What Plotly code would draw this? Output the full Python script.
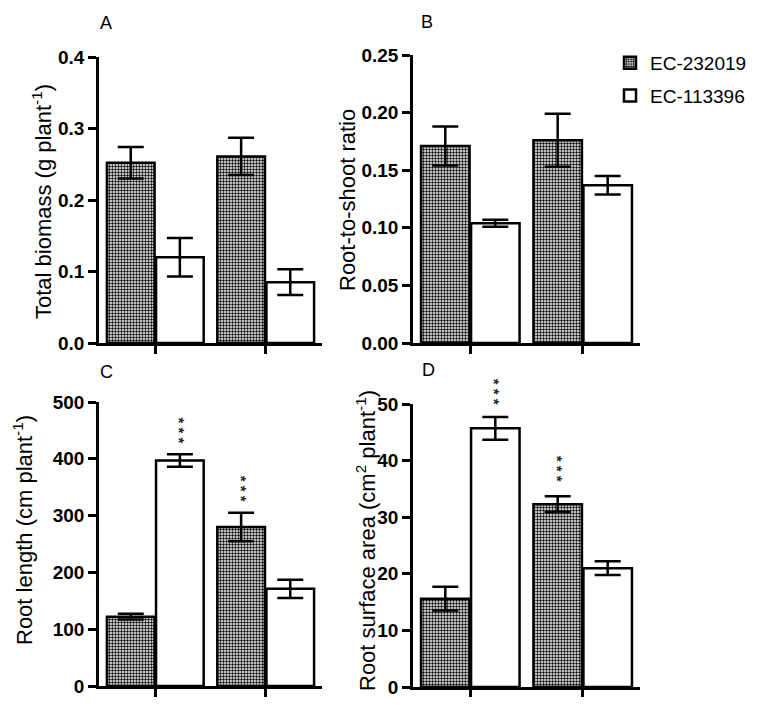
import plotly.graph_objects as go

# The page body adds an 8 px margin, so the figure is drawn 16 px smaller
# and all reference pixel positions are shifted by that margin.
REF_W, REF_H = 760, 705
OFF = 8
W, H = REF_W - 2 * OFF, REF_H - 2 * OFF

# ---------------- data ----------------
groups = [0, 1]
series_names = ["EC-232019", "EC-113396"]

biomass_ec232019 = [0.252, 0.261]
biomass_ec232019_err = [0.022, 0.026]
biomass_ec113396 = [0.120, 0.085]
biomass_ec113396_err = [0.027, 0.018]

ratio_ec232019 = [0.171, 0.176]
ratio_ec232019_err = [0.017, 0.023]
ratio_ec113396 = [0.104, 0.137]
ratio_ec113396_err = [0.003, 0.008]

length_ec232019 = [122, 280]
length_ec232019_err = [5, 25]
length_ec113396 = [397, 171]
length_ec113396_err = [11, 16]

area_ec232019 = [15.6, 32.3]
area_ec232019_err = [2.1, 1.4]
area_ec113396 = [45.7, 21.0]
area_ec113396_err = [2.0, 1.2]

panel_letters = ["A", "B", "C", "D"]
y_titles = [
    "Total biomass (g plant<sup>-1</sup>)",
    "Root-to-shoot ratio",
    "Root length (cm plant<sup>-1</sup>)",
    "Root surface area (cm<sup>2</sup> plant<sup>-1</sup>)",
]
y_ranges = [[0, 0.4], [0, 0.25], [0, 500], [0, 50]]
y_dticks = [0.1, 0.05, 100, 10]
y_formats = [".1f", ".2f", "d", "d"]

# significance marks: (panel index, group index, series index, y value)
stars = [(2, 0, 1, 450), (2, 1, 0, 347), (3, 0, 1, 52.1), (3, 1, 0, 38.6)]

# ---------------- layout helpers ----------------
def fx(p):
    return (p - OFF) / W

def fy(p):
    return 1 - (p - OFF) / H

panel_px = [
    (99, 322, 343, 57),
    (413, 640, 343, 55),
    (99, 322, 686, 402),
    (413, 640, 687, 404),
]

FONT = "Liberation Sans, Arial, sans-serif"

fig = go.Figure()

data_sets = [
    (biomass_ec232019, biomass_ec232019_err, biomass_ec113396, biomass_ec113396_err),
    (ratio_ec232019, ratio_ec232019_err, ratio_ec113396, ratio_ec113396_err),
    (length_ec232019, length_ec232019_err, length_ec113396, length_ec113396_err),
    (area_ec232019, area_ec232019_err, area_ec113396, area_ec113396_err),
]

for i, (v1, e1, v2, e2) in enumerate(data_sets):
    sfx = "" if i == 0 else str(i + 1)
    xa, ya = "x" + sfx, "y" + sfx
    fig.add_trace(go.Bar(
        x=groups, y=v1, name=series_names[0], xaxis=xa, yaxis=ya,
        showlegend=(i == 0), legendgroup="g1",
        marker=dict(color="white", line=dict(color="black", width=2.5),
                    pattern=dict(shape=".", size=3, solidity=0.5,
                                 fgcolor="black", bgcolor="white", fillmode="replace")),
        error_y=dict(type="data", array=e1, color="black", thickness=2.5, width=13),
    ))
    fig.add_trace(go.Bar(
        x=groups, y=v2, name=series_names[1], xaxis=xa, yaxis=ya,
        showlegend=(i == 0), legendgroup="g2",
        marker=dict(color="white", line=dict(color="black", width=2.5)),
        error_y=dict(type="data", array=e2, color="black", thickness=2.5, width=13),
    ))

layout = dict(
    width=W, height=H,
    margin=dict(l=0, r=0, t=0, b=0, autoexpand=False),
    paper_bgcolor="white", plot_bgcolor="white",
    barmode="group", bargap=0.11, bargroupgap=0.03,
    font=dict(family=FONT, color="black"),
    legend=dict(x=1, y=fy(44), xanchor="right", yanchor="top",
                font=dict(size=19, family=FONT), tracegroupgap=5,
                bgcolor="rgba(0,0,0,0)"),
    showlegend=True,
)

annotations = []
for i, (x0, x1, yb, yt) in enumerate(panel_px):
    sfx = "" if i == 0 else str(i + 1)
    layout["xaxis" + sfx] = dict(
        domain=[fx(x0), fx(x1)], anchor="y" + sfx, automargin=False,
        range=[-0.51, 1.51], tickvals=groups,
        showline=True, linecolor="black", linewidth=2.5,
        ticks="outside", ticklen=8, tickwidth=2.5, tickcolor="black",
        showticklabels=False, showgrid=False, zeroline=False, fixedrange=True,
    )
    layout["yaxis" + sfx] = dict(
        domain=[fy(yb), fy(yt)], anchor="x" + sfx, automargin=False,
        range=y_ranges[i], dtick=y_dticks[i], tick0=0, tickformat=y_formats[i],
        showline=True, linecolor="black", linewidth=2.5,
        ticks="outside", ticklen=8, tickwidth=2.5, tickcolor="black",
        tickfont=dict(size=19, family=FONT, weight="bold"),
        ticklabeloverflow="allow",
        showgrid=False, zeroline=False, fixedrange=True,
    )

# axis titles
title_pos = [(42, 202), (347, 200), (23, 530), (366, 541)]
for i, (tx, ty) in enumerate(title_pos):
    annotations.append(dict(
        x=fx(tx), y=fy(ty), xref="paper", yref="paper",
        text=y_titles[i], textangle=-90, showarrow=False,
        xanchor="center", yanchor="middle",
        font=dict(size=22, family=FONT, color="black"),
    ))

# panel letters
letter_pos = [(106, 23), (427, 22), (106, 372), (428, 370)]
for i, (lx, ly) in enumerate(letter_pos):
    annotations.append(dict(
        x=fx(lx), y=fy(ly), xref="paper", yref="paper",
        text=panel_letters[i], showarrow=False,
        xanchor="center", yanchor="middle",
        font=dict(size=18, family=FONT, color="black"),
    ))

# significance stars (y given in data units, placed through the axis domain)
offsets = [-0.222, 0.222]
for (pi, gi, si, yv) in stars:
    sfx = "" if pi == 0 else str(pi + 1)
    annotations.append(dict(
        x=groups[gi] + offsets[si], y=yv / y_ranges[pi][1],
        xref="x" + sfx, yref="y" + sfx + " domain",
        text="* * *", textangle=90, showarrow=False,
        xanchor="center", yanchor="middle",
        font=dict(size=15, family=FONT, color="#222222", weight="bold"),
    ))

layout["annotations"] = annotations
fig.update_layout(**layout)
fig.write_html("out.html")
